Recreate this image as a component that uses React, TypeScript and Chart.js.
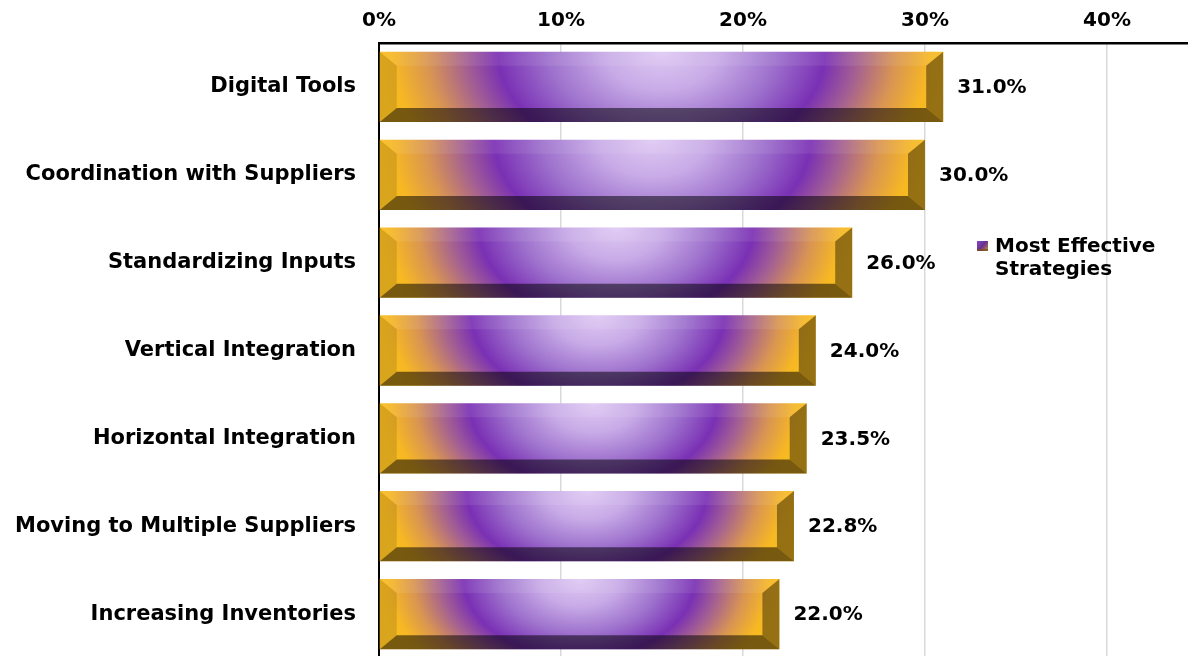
import React, { useEffect, useRef } from 'react';
import { Chart, registerables } from 'chart.js';

Chart.register(...registerables);

const categories = [
  'Digital Tools',
  'Coordination with Suppliers',
  'Standardizing Inputs',
  'Vertical Integration',
  'Horizontal Integration',
  'Moving to Multiple Suppliers',
  'Increasing Inventories',
];
const values = [31.0, 30.0, 26.0, 24.0, 23.5, 22.8, 22.0];
const seriesLabel = 'Most Effective Strategies';
const legendLines = ['Most Effective', 'Strategies'];
const tickValues = [0, 10, 20, 30, 40];
const axisMax = 44.45;

const FONT = '"DejaVu Sans", "Liberation Sans", Arial, sans-serif';

function paintBar(ctx: CanvasRenderingContext2D, x0: number, x1: number, yTop: number, yBot: number) {
  const w = x1 - x0;
  const h = yBot - yTop;
  if (w <= 0 || h <= 0) return;
  const cx = (x0 + x1) / 2;
  const ky = 0.68;
  const R = w / 2;

  ctx.save();
  ctx.beginPath();
  ctx.rect(x0, yTop, w, h);
  ctx.clip();
  ctx.translate(cx, yTop);
  ctx.scale(1, ky);
  const g = ctx.createRadialGradient(0, 0, 0, 0, 0, R);
  g.addColorStop(0, '#DFC9F3');
  g.addColorStop(0.2, '#C8ABE7');
  g.addColorStop(0.4, '#9E72CD');
  g.addColorStop(0.58, '#7A30B4');
  g.addColorStop(0.69, '#A25E94');
  g.addColorStop(0.83, '#D99552');
  g.addColorStop(0.95, '#F6B724');
  g.addColorStop(1, '#F8BC20');
  ctx.fillStyle = g;
  ctx.fillRect(-w / 2 - 2, -2, w + 4, h / ky + 4);
  ctx.restore();

  const dx = Math.min(17, w / 3);
  const dy = 14;
  const poly = (pts: number[][], color: string) => {
    ctx.beginPath();
    ctx.moveTo(pts[0][0], pts[0][1]);
    for (let i = 1; i < pts.length; i++) ctx.lineTo(pts[i][0], pts[i][1]);
    ctx.closePath();
    ctx.fillStyle = color;
    ctx.fill();
  };
  poly([[x0, yTop], [x1, yTop], [x1 - dx, yTop + dy], [x0 + dx, yTop + dy]], 'rgba(255,255,255,0.08)');
  poly([[x0, yBot], [x1, yBot], [x1 - dx, yBot - dy], [x0 + dx, yBot - dy]], 'rgba(0,0,0,0.52)');
  poly([[x0, yTop], [x0 + dx, yTop + dy], [x0 + dx, yBot - dy], [x0, yBot]], 'rgba(0,0,0,0.12)');
  poly([[x1, yTop], [x1 - dx, yTop + dy], [x1 - dx, yBot - dy], [x1, yBot]], 'rgba(0,0,0,0.40)');
}

const bevelBarsPlugin = {
  id: 'bevelBars',
  afterDatasetsDraw(chart: any) {
    const ctx: CanvasRenderingContext2D = chart.ctx;
    const meta = chart.getDatasetMeta(0);
    const data = chart.data.datasets[0].data as number[];
    meta.data.forEach((el: any, i: number) => {
      const { x, y, base, height } = el.getProps(['x', 'y', 'base', 'height'], true);
      paintBar(ctx, Math.min(base, x), Math.max(base, x), y - height / 2, y + height / 2);
      ctx.save();
      ctx.font = `bold 20px ${FONT}`;
      ctx.fillStyle = '#000';
      ctx.textAlign = 'left';
      ctx.textBaseline = 'middle';
      ctx.fillText(`${data[i].toFixed(1)}%`, x + 14, y + 1);
      ctx.restore();
    });
  },
  afterDraw(chart: any) {
    const ctx: CanvasRenderingContext2D = chart.ctx;
    const mx = 977;
    const my = 241;
    ctx.save();
    const g = ctx.createLinearGradient(mx, my, mx + 11, my + 10);
    g.addColorStop(0, '#8A48C8');
    g.addColorStop(0.5, '#6A3090');
    g.addColorStop(1, '#C89030');
    ctx.fillStyle = g;
    ctx.fillRect(mx, my, 11, 10);
    ctx.fillStyle = 'rgba(120,80,20,0.7)';
    ctx.fillRect(mx, my + 8, 11, 2);
    ctx.font = `bold 20px ${FONT}`;
    ctx.fillStyle = '#000';
    ctx.textAlign = 'left';
    ctx.textBaseline = 'middle';
    legendLines.forEach((line, i) => {
      ctx.fillText(line, 995, 247 + i * 23);
    });
    ctx.restore();
  },
};

export default function App() {
  const canvasRef = useRef<HTMLCanvasElement | null>(null);

  useEffect(() => {
    if (!canvasRef.current) return;
    const chart = new Chart(canvasRef.current, {
      type: 'bar',
      data: {
        labels: categories,
        datasets: [
          {
            label: seriesLabel,
            data: values,
            backgroundColor: 'rgba(0,0,0,0)',
            borderWidth: 0,
            barPercentage: 0.8,
            categoryPercentage: 1,
          },
        ],
      },
      options: {
        indexAxis: 'y',
        responsive: false,
        animation: false,
        devicePixelRatio: 1,
        layout: { padding: 0 },
        plugins: {
          legend: { display: false },
          tooltip: { enabled: false },
        },
        scales: {
          x: {
            position: 'top',
            min: 0,
            max: axisMax,
            afterBuildTicks: (scale: any) => {
              scale.ticks = tickValues.map((v) => ({ value: v }));
            },
            afterFit: (scale: any) => {
              scale.height = 43;
              scale.paddingLeft = 0;
              scale.paddingRight = 0;
            },
            ticks: {
              color: '#000',
              font: { family: FONT, size: 20, weight: 'bold' },
              padding: 10,
              callback: (v: any) => `${v}%`,
              maxRotation: 0,
            },
            grid: { color: '#d9d9d9', lineWidth: 1.5, drawTicks: false },
            border: { display: true, color: '#000', width: 2.5 },
          },
          y: {
            afterFit: (scale: any) => {
              scale.width = 379;
              scale.paddingTop = 0;
              scale.paddingBottom = 0;
            },
            ticks: {
              color: '#000',
              font: { family: FONT, size: 21, weight: 'bold' },
              padding: 23,
            },
            grid: { display: false, drawTicks: false },
            border: { display: true, color: '#000', width: 2 },
          },
        },
      },
      plugins: [bevelBarsPlugin],
    } as any);
    return () => chart.destroy();
  }, []);

  return (
    <div style={{ position: 'fixed', left: 0, top: 0, width: 1188, height: 656, overflow: 'hidden', background: '#fff' }}>
      <canvas ref={canvasRef} width={1188} height={658} style={{ display: 'block' }} />
    </div>
  );
}
